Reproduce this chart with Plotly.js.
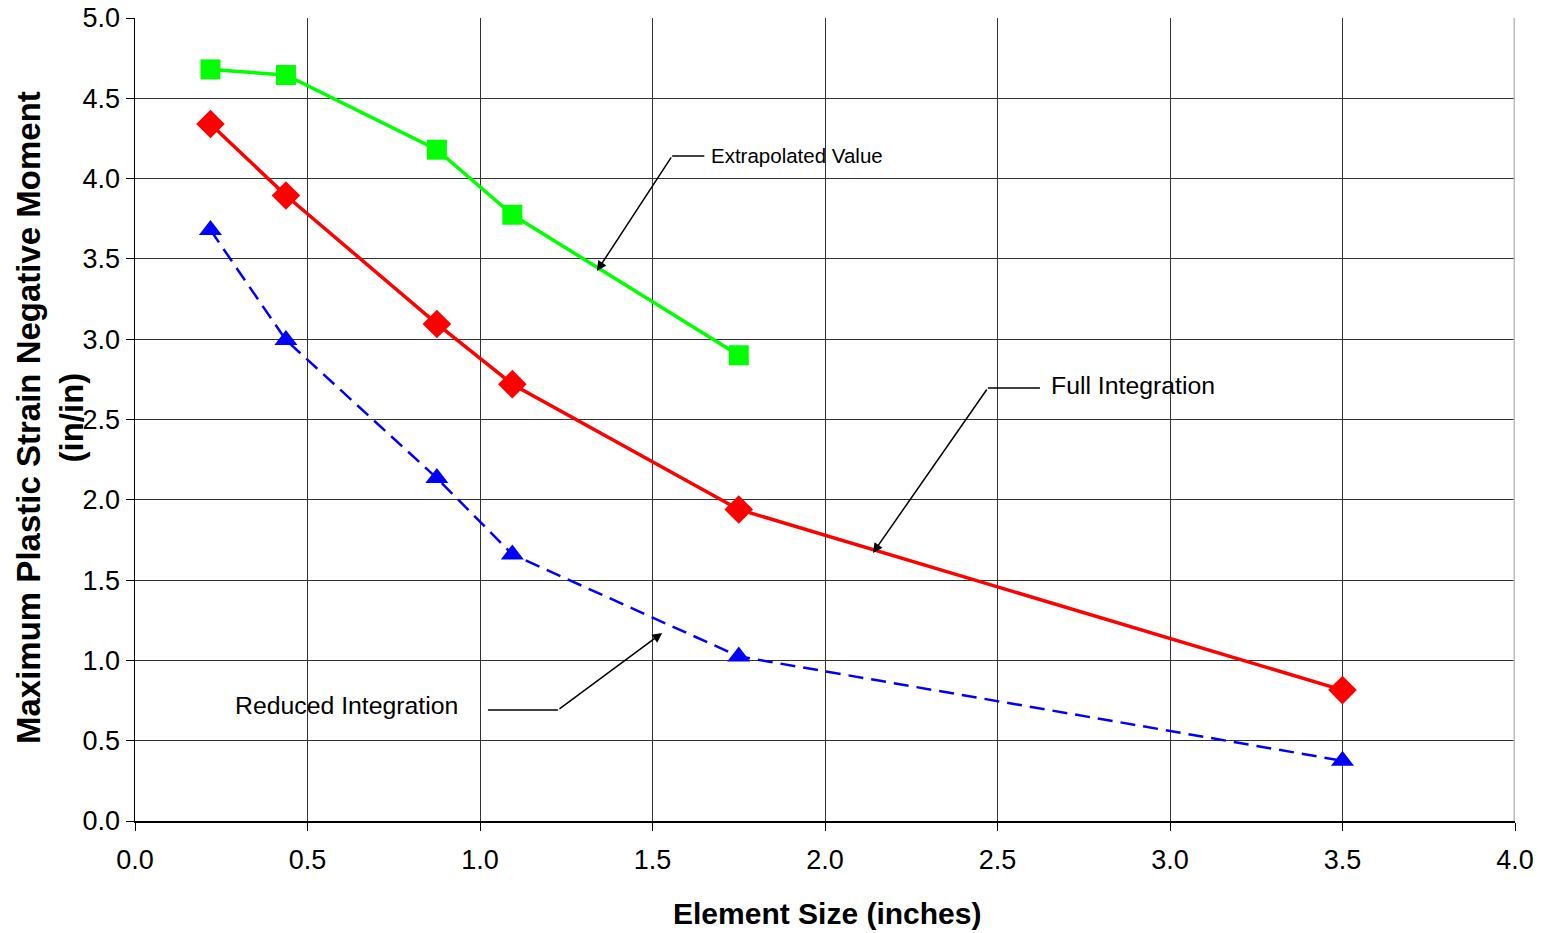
<!DOCTYPE html>
<html>
<head>
<meta charset="utf-8">
<script src="https://cdn.plot.ly/plotly-3.0.1.min.js"></script>
<style>html,body{margin:0;padding:0;background:#fff}#chart{width:1550px;height:933px}</style>
</head>
<body>
<div id="chart"></div>
<script>
const elementSize = [0.21875, 0.4375, 0.875, 1.09375, 1.75, 3.5];
const extrapolated = [4.68, 4.645, 4.18, 3.775, 2.90];
const fullIntegration = [4.34, 3.895, 3.095, 2.72, 1.94, 0.815];
const reducedIntegration = [3.68, 2.995, 2.135, 1.66, 1.025, 0.375];
const xTicks = [0, 0.5, 1, 1.5, 2, 2.5, 3, 3.5, 4];
const xTickLabels = ["0.0","0.5","1.0","1.5","2.0","2.5","3.0","3.5","4.0"];
const yTicks = [0, 0.5, 1, 1.5, 2, 2.5, 3, 3.5, 4, 4.5, 5];
const yTickLabels = ["0.0","0.5","1.0","1.5","2.0","2.5","3.0","3.5","4.0","4.5","5.0"];

const FONT = "Liberation Sans, Arial, sans-serif";

const traces = [
  {x: elementSize.slice(0, extrapolated.length), y: extrapolated, mode: "lines+markers", name: "Extrapolated Value",
   line: {color: "#00ff00", width: 3.5}, marker: {symbol: "square", size: 20, color: "#00ff00"}},
  {x: elementSize, y: fullIntegration, mode: "lines+markers", name: "Full Integration",
   line: {color: "#ff0000", width: 3.5}, marker: {symbol: "diamond", size: 22, color: "#ff0000"}},
  {x: elementSize, y: reducedIntegration, mode: "lines+markers", name: "Reduced Integration",
   line: {color: "#0000ff", width: 2.5, dash: "15px,8px"}, marker: {symbol: "triangle-up", size: 20, color: "#0000ff"}}
];

const layout = {
  width: 1550, height: 933,
  margin: {l: 135, r: 35, t: 18, b: 112},
  paper_bgcolor: "#fff", plot_bgcolor: "#fff",
  showlegend: false,
  font: {family: FONT, color: "#000"},
  xaxis: {
    range: [0, 4], tickvals: xTicks, ticktext: xTickLabels,
    showgrid: true, gridcolor: "#333", gridwidth: 1,
    showline: true, linecolor: "#000", linewidth: 1.5, mirror: false,
    ticks: "outside", ticklen: 8, tickcolor: "#000", ticklabelstandoff: 6,
    tickfont: {size: 27, family: FONT, color: "#000"}, zeroline: false
  },
  yaxis: {
    range: [0, 5], tickvals: yTicks, ticktext: yTickLabels,
    showgrid: true, gridcolor: "#333", gridwidth: 1,
    showline: true, linecolor: "#000", linewidth: 1.5,
    ticks: "outside", ticklen: 8, tickcolor: "#000",
    tickfont: {size: 27, family: FONT, color: "#000"}, zeroline: false
  },
  shapes: [
    {type: "line", xref: "x", yref: "y", x0: 1.557, y0: 4.141, x1: 1.65, y1: 4.141, line: {color: "#000", width: 1.5}},
    {type: "line", xref: "x", yref: "y", x0: 2.472, y0: 2.696, x1: 2.623, y1: 2.696, line: {color: "#000", width: 1.5}},
    {type: "line", xref: "x", yref: "y", x0: 1.023, y0: 0.691, x1: 1.226, y1: 0.691, line: {color: "#000", width: 1.5}},
    {type: "line", xref: "x", yref: "y", x0: 4, y0: 0, x1: 4, y1: 5, line: {color: "#bbb", width: 3}}
  ],
  annotations: [
    {text: "Extrapolated Value", xref: "x", yref: "y", x: 1.665, y: 4.141, xanchor: "left", yanchor: "middle",
     showarrow: false, font: {size: 20.5, family: FONT, color: "#000"}},
    {text: "", xref: "x", yref: "y", x: 1.339, y: 3.425, axref: "x", ayref: "y", ax: 1.557, ay: 4.141,
     showarrow: true, arrowhead: 2, arrowsize: 1.3, arrowwidth: 1.5, arrowcolor: "#000"},
    {text: "Full Integration", xref: "x", yref: "y", x: 2.65, y: 2.71, xanchor: "left", yanchor: "middle",
     showarrow: false, font: {size: 24.8, family: FONT, color: "#000"}},
    {text: "", xref: "x", yref: "y", x: 2.139, y: 1.669, axref: "x", ayref: "y", ax: 2.472, ay: 2.696,
     showarrow: true, arrowhead: 2, arrowsize: 1.3, arrowwidth: 1.5, arrowcolor: "#000"},
    {text: "Reduced Integration", xref: "x", yref: "y", x: 0.612, y: 0.72, xanchor: "center", yanchor: "middle",
     showarrow: false, font: {size: 24.8, family: FONT, color: "#000"}},
    {text: "", xref: "x", yref: "y", x: 1.528, y: 1.171, axref: "x", ayref: "y", ax: 1.226, ay: 0.691,
     showarrow: true, arrowhead: 2, arrowsize: 1.3, arrowwidth: 1.5, arrowcolor: "#000"},
    {text: "<b>Maximum Plastic Strain Negative Moment<br>(in/in)</b>", xref: "paper", yref: "paper",
     x: (50 - 135) / 1380, y: (821 - 418) / 803, xanchor: "center", yanchor: "middle", textangle: -90,
     showarrow: false, font: {size: 33, family: FONT, color: "#000"}},
    {text: "<b>Element Size (inches)</b>", xref: "paper", yref: "paper",
     x: (827 - 135) / 1380, y: (821 - 913) / 803, xanchor: "center", yanchor: "middle",
     showarrow: false, font: {size: 30, family: FONT, color: "#000"}}
  ]
};

Plotly.newPlot("chart", traces, layout, {displayModeBar: false, staticPlot: true});
</script>
</body>
</html>
